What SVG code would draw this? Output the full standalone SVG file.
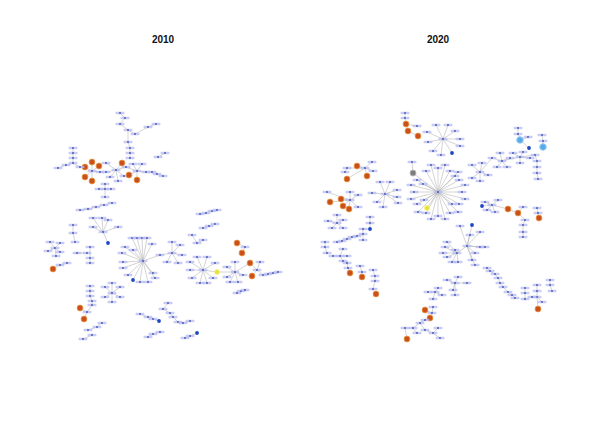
<svg xmlns="http://www.w3.org/2000/svg" xmlns:xlink="http://www.w3.org/1999/xlink" width="602" height="427" viewBox="0 0 602 427">
<style>
.t{font-family:"Liberation Sans",Arial,sans-serif;font-size:10px;font-weight:bold;fill:#111;text-anchor:middle}
.e{fill:none;stroke:#a8a8a8;stroke-width:0.5}
</style>
<defs>
<g id="nd"><rect x="-4.5" y="-1.3" width="9" height="2.6" rx="1" fill="#b8b9ef" opacity="0.75"/><circle r="0.9" fill="#3b55b8"/></g>
<g id="or"><circle r="2.9" fill="#c8501c" stroke="#e8903e" stroke-width="0.9"/></g>
<g id="bl"><circle r="1.9" fill="#1e46c4"/></g>
<g id="ye"><circle r="2.5" fill="#e6e23a" stroke="#f4f08a" stroke-width="0.8"/></g>
<g id="gr"><circle r="3" fill="#7d7d7d" stroke="#b5b5b5" stroke-width="1"/></g>
<g id="lb"><circle r="3.3" fill="#55aaea" stroke="#9fd0f4" stroke-width="1"/></g>
</defs>
<rect width="602" height="427" fill="#fff"/>
<text class="t" x="163" y="42.5">2010</text>
<text class="t" x="438" y="42.5">2020</text>

<g id="connectors">
<path class="e" d="M120 113L125 118L120 124L128 130L135 134L148 127L156 124M128 130L128 142L130 148L130 153L130 158"/>
<path class="e" d="M116 170L106 163M116 170L122 163M116 170L126 167M116 170L124 176M116 170L110 177M116 170L118 181M116 170L106 172L100 172"/>
<path class="e" d="M92 171L92 162M92 171L85 167M92 171L99 166M92 171L85 177M92 171L92 181M92 171L100 172"/>
<path class="e" d="M137 171L129 175M137 171L137 180M137 171L133 164M137 171L142 164M137 171L146 172L152 172L157 174L163 176M126 167L137 171"/>
<path class="e" d="M158 157L165 153M73 148L73 153L73 158L73 163L66 165L58 168M73 163L80 167"/>
<path class="e" d="M105 189L105 184M105 189L99 189M105 189L111 189M105 189L105 197"/>
<path class="e" d="M80 210L88 209L96 207L104 205L112 203"/>
<path class="e" d="M103 232L93 218M103 232L102 218M103 232L108 220M103 232L118 227M103 232L93 227M103 232L108 243"/>
<path class="e" d="M143 261L132 238M143 261L137 238M143 261L142 238M143 261L147 238M143 261L152 244M143 261L125 247M143 261L122 253M143 261L123 262M143 261L123 268M143 261L128 275M143 261L133 280M143 261L140 282M143 261L148 282M143 261L153 273M143 261L155 278M143 261L133 250M143 261L160 255L172 253"/>
<path class="e" d="M172 253L172 242M172 253L180 245M172 253L182 255M172 253L178 263M172 253L167 262"/>
<path class="e" d="M192 235L197 243L203 240M200 214L206 213L212 211L217 210M203 228L209 226L215 224"/>
<path class="e" d="M203 270L197 257M203 270L190 262M203 270L190 270M203 270L192 278M203 270L200 283M203 270L207 283M203 270L213 278M203 270L215 263M203 270L207 257M203 270L217 272L235 272"/>
<path class="e" d="M235 272L227 267M235 272L235 262M235 272L230 282M235 272L238 282M235 272L243 275M235 272L227 277M235 272L250 263L257 270"/>
<path class="e" d="M237 243L245 247L242 253M257 270L252 276M257 270L260 262M257 270L263 275L268 274L273 273L278 272M237 293L241 291L245 290"/>
<path class="e" d="M112 293L112 283M112 293L105 287M112 293L120 287M112 293L105 297M112 293L120 297M112 293L112 302"/>
<path class="e" d="M73 225L73 233L75 242M55 248L50 242M55 248L60 243M55 248L48 251M55 248L60 252M55 248L56 256M77 253L87 253L90 253M90 247L90 253L90 258L90 263M53 269L60 265L67 263"/>
<path class="e" d="M90 286L90 291L90 296L92 301L92 305L87 312L84 319M80 308L87 312M102 323L97 327L88 330M92 335L83 339"/>
<path class="e" d="M168 303L163 309L170 313L173 317L178 322L183 323L190 321M140 314L148 317L153 319L159 321M160 332L153 334L148 337M197 333L190 336L185 338"/>
<path class="e" d="M405 113L405 118L406 124L408 131M406 124L417 126M408 131L418 136"/>
<path class="e" d="M443 139L436 125M443 139L448 125M443 139L427 132M443 139L428 142M443 139L433 151M443 139L441 155M443 139L452 153M443 139L460 139M443 139L460 146M443 139L455 131"/>
<path class="e" d="M518 128L518 134L520 140L528 137M520 140L529 148M542 135L543 141L543 147"/>
<path class="e" d="M502 161L492 158M502 161L500 153M502 161L510 158M502 161L507 167M502 161L497 167M502 161L520 157M520 157L513 153M520 157L523 152M520 157L530 158M520 157L520 163M520 157L535 155L537 161L537 167L537 173L538 179"/>
<path class="e" d="M480 172L472 165M480 172L482 163M480 172L472 178M480 172L480 181M480 172L488 175M480 172L492 158"/>
<path class="e" d="M365 168L357 166M365 168L347 179M365 168L367 176M365 168L347 168M365 168L372 162M365 168L373 171M347 168L345 172"/>
<path class="e" d="M350 200L330 202M350 200L341 199M350 200L343 206M350 200L349 209M350 200L327 192M350 200L350 192M350 200L358 195M350 200L358 207"/>
<path class="e" d="M385 194L380 182M385 194L390 182M385 194L372 193M385 194L377 202M385 194L383 207M385 194L397 197M385 194L397 190M385 194L398 203"/>
<path class="e" d="M413 173L412 162M438 192L413 173M438 192L427 208"/>
<path class="e" d="M438 192L462 192M438 192L465 199M438 192L459 204M438 192L458 212M438 192L450 213M438 192L445 219M438 192L438 216M438 192L431 219M438 192L426 213M438 192L418 212M438 192L417 204M438 192L411 199M438 192L414 192M438 192L411 185M438 192L417 180M438 192L426 171M438 192L431 165M438 192L438 168M438 192L445 165M438 192L450 171M438 192L458 172M438 192L459 180M438 192L465 185M438 192L455 176M438 192L423 184M438 192L452 204M438 192L424 200"/>
<path class="e" d="M492 205L485 202M492 205L498 200M492 205L487 210M492 205L495 212M492 205L482 206M492 205L508 209L518 213L523 207M518 213L525 220L523 225L523 232L523 237M537 208L538 213L539 218"/>
<path class="e" d="M467 246L460 226M467 246L472 225M467 246L480 232M467 246L470 235M467 246L480 247M467 246L485 247M467 246L475 253M467 246L472 260M467 246L475 265M467 246L457 253"/>
<path class="e" d="M457 253L447 242M457 253L445 247M457 253L443 253M457 253L447 257M457 253L452 262M457 253L458 262M457 253L455 250"/>
<path class="e" d="M487 268L490 271L495 274L498 278L500 283L503 287L508 292L512 295L515 298"/>
<path class="e" d="M537 297L538 309M537 297L537 291L537 285M537 297L532 297M537 297L542 302M525 288L525 293L525 299M550 280L550 285L552 291"/>
<path class="e" d="M455 283L447 280M455 283L458 277M455 283L467 283M455 283L453 290M455 283L455 295M435 292L428 292M435 292L438 288M435 292L442 295M435 292L433 299"/>
<path class="e" d="M433 307L432 313L430 318L425 320L420 323L413 328L405 328L407 339M425 310L432 313M420 323L425 330L433 333L438 328M433 333L440 338M413 328L417 333"/>
<path class="e" d="M337 223L337 215M337 223L328 221M337 223L343 220M337 223L332 228M337 223L343 228"/>
<path class="e" d="M370 217L370 223L370 229L363 229L363 234L363 240M337 242L342 241L347 239L352 237L357 236L363 234M325 242L325 247L327 253"/>
<path class="e" d="M340 256L343 249M340 256L333 256M340 256L347 256M340 256L343 261L347 263L348 268L350 273M360 266L362 272L362 277M373 270L375 276L375 281L373 289L376 294"/>
</g>

<g id="nodes-2010">
<g id="l-topchain">
<use href="#nd" x="120" y="113"/><use href="#nd" x="125" y="118"/><use href="#nd" x="120" y="124"/><use href="#nd" x="128" y="130"/><use href="#nd" x="135" y="134"/><use href="#nd" x="148" y="127"/><use href="#nd" x="156" y="124"/><use href="#nd" x="128" y="142"/><use href="#nd" x="130" y="148"/><use href="#nd" x="130" y="153"/><use href="#nd" x="130" y="158"/>
</g>
<g id="l-hub1">
<use href="#nd" x="116" y="170"/><use href="#nd" x="106" y="163"/><use href="#or" x="122" y="163"/><use href="#nd" x="126" y="167"/><use href="#nd" x="124" y="176"/><use href="#nd" x="110" y="177"/><use href="#nd" x="118" y="181"/><use href="#nd" x="106" y="172"/>
</g>
<g id="l-hub2">
<use href="#nd" x="92" y="171"/><use href="#or" x="92" y="162"/><use href="#or" x="85" y="167"/><use href="#or" x="99" y="166"/><use href="#or" x="85" y="177"/><use href="#or" x="92" y="181"/><use href="#nd" x="100" y="172"/>
</g>
<g id="l-hub3">
<use href="#nd" x="137" y="171"/><use href="#or" x="129" y="175"/><use href="#or" x="137" y="180"/><use href="#nd" x="133" y="164"/><use href="#nd" x="142" y="164"/><use href="#nd" x="146" y="172"/><use href="#nd" x="152" y="172"/><use href="#nd" x="157" y="174"/><use href="#nd" x="163" y="176"/><use href="#nd" x="158" y="157"/><use href="#nd" x="165" y="153"/>
</g>
<g id="l-leftchain">
<use href="#nd" x="73" y="148"/><use href="#nd" x="73" y="153"/><use href="#nd" x="73" y="158"/><use href="#nd" x="73" y="163"/><use href="#nd" x="66" y="165"/><use href="#nd" x="58" y="168"/><use href="#nd" x="80" y="167"/>
</g>
<g id="l-small1">
<use href="#nd" x="105" y="189"/><use href="#nd" x="105" y="184"/><use href="#nd" x="99" y="189"/><use href="#nd" x="111" y="189"/><use href="#nd" x="105" y="197"/>
<use href="#nd" x="80" y="210"/><use href="#nd" x="88" y="209"/><use href="#nd" x="96" y="207"/><use href="#nd" x="104" y="205"/><use href="#nd" x="112" y="203"/>
</g>
<g id="l-hub4">
<use href="#nd" x="103" y="232"/><use href="#nd" x="93" y="218"/><use href="#nd" x="102" y="218"/><use href="#nd" x="108" y="220"/><use href="#nd" x="118" y="227"/><use href="#nd" x="93" y="227"/><use href="#bl" x="108" y="243"/>
</g>
<g id="l-bighub">
<use href="#nd" x="143" y="261"/><use href="#nd" x="132" y="238"/><use href="#nd" x="137" y="238"/><use href="#nd" x="142" y="238"/><use href="#nd" x="147" y="238"/><use href="#nd" x="152" y="244"/><use href="#nd" x="125" y="247"/><use href="#nd" x="122" y="253"/><use href="#nd" x="123" y="262"/><use href="#nd" x="123" y="268"/><use href="#nd" x="128" y="275"/><use href="#bl" x="133" y="280"/><use href="#nd" x="140" y="282"/><use href="#nd" x="148" y="282"/><use href="#nd" x="153" y="273"/><use href="#nd" x="155" y="278"/><use href="#nd" x="133" y="250"/><use href="#nd" x="160" y="255"/>
<use href="#nd" x="172" y="253"/><use href="#nd" x="172" y="242"/><use href="#nd" x="180" y="245"/><use href="#nd" x="182" y="255"/><use href="#nd" x="178" y="263"/><use href="#nd" x="167" y="262"/>
</g>
<g id="l-chains2">
<use href="#nd" x="192" y="235"/><use href="#nd" x="197" y="243"/><use href="#nd" x="203" y="240"/>
<use href="#nd" x="200" y="214"/><use href="#nd" x="206" y="213"/><use href="#nd" x="212" y="211"/><use href="#nd" x="217" y="210"/>
<use href="#nd" x="203" y="228"/><use href="#nd" x="209" y="226"/><use href="#nd" x="215" y="224"/>
</g>
<g id="l-hub5">
<use href="#nd" x="203" y="270"/><use href="#nd" x="197" y="257"/><use href="#nd" x="190" y="262"/><use href="#nd" x="190" y="270"/><use href="#nd" x="192" y="278"/><use href="#nd" x="200" y="283"/><use href="#nd" x="207" y="283"/><use href="#nd" x="213" y="278"/><use href="#nd" x="215" y="263"/><use href="#nd" x="207" y="257"/><use href="#ye" x="217" y="272"/>
</g>
<g id="l-hub6">
<use href="#nd" x="235" y="272"/><use href="#nd" x="227" y="267"/><use href="#nd" x="235" y="262"/><use href="#nd" x="230" y="282"/><use href="#nd" x="238" y="282"/><use href="#nd" x="243" y="275"/><use href="#nd" x="227" y="277"/>
<use href="#or" x="237" y="243"/><use href="#nd" x="245" y="247"/><use href="#or" x="242" y="253"/>
<use href="#or" x="250" y="263"/><use href="#nd" x="257" y="270"/><use href="#or" x="252" y="276"/><use href="#nd" x="260" y="262"/><use href="#nd" x="263" y="275"/><use href="#nd" x="268" y="274"/><use href="#nd" x="273" y="273"/><use href="#nd" x="278" y="272"/>
<use href="#nd" x="237" y="293"/><use href="#nd" x="241" y="291"/><use href="#nd" x="245" y="290"/>
</g>
<g id="l-left2">
<use href="#nd" x="73" y="225"/><use href="#nd" x="73" y="233"/><use href="#nd" x="75" y="242"/>
<use href="#nd" x="55" y="248"/><use href="#nd" x="50" y="242"/><use href="#nd" x="60" y="243"/><use href="#nd" x="48" y="251"/><use href="#nd" x="60" y="252"/><use href="#nd" x="56" y="256"/>
<use href="#nd" x="77" y="253"/><use href="#nd" x="87" y="253"/><use href="#nd" x="90" y="247"/><use href="#nd" x="90" y="258"/><use href="#nd" x="90" y="263"/>
<use href="#or" x="53" y="269"/><use href="#nd" x="60" y="265"/><use href="#nd" x="67" y="263"/>
</g>
<g id="l-bottom">
<use href="#nd" x="112" y="293"/><use href="#nd" x="112" y="283"/><use href="#nd" x="105" y="287"/><use href="#nd" x="120" y="287"/><use href="#nd" x="105" y="297"/><use href="#nd" x="120" y="297"/><use href="#nd" x="112" y="302"/>
<use href="#nd" x="90" y="286"/><use href="#nd" x="90" y="291"/><use href="#nd" x="90" y="296"/><use href="#nd" x="92" y="301"/><use href="#nd" x="92" y="305"/><use href="#or" x="80" y="308"/><use href="#nd" x="87" y="312"/><use href="#or" x="84" y="319"/>
<use href="#nd" x="102" y="323"/><use href="#nd" x="97" y="327"/><use href="#nd" x="88" y="330"/><use href="#nd" x="92" y="335"/><use href="#nd" x="83" y="339"/>
<use href="#nd" x="168" y="303"/><use href="#nd" x="163" y="309"/><use href="#nd" x="170" y="313"/><use href="#nd" x="173" y="317"/><use href="#nd" x="178" y="322"/><use href="#nd" x="183" y="323"/><use href="#nd" x="190" y="321"/>
<use href="#nd" x="140" y="314"/><use href="#nd" x="148" y="317"/><use href="#nd" x="153" y="319"/><use href="#bl" x="159" y="321"/>
<use href="#nd" x="160" y="332"/><use href="#nd" x="153" y="334"/><use href="#nd" x="148" y="337"/>
<use href="#bl" x="197" y="333"/><use href="#nd" x="190" y="336"/><use href="#nd" x="185" y="338"/>
</g>
</g>

<g id="nodes-2020">
<g id="r-top">
<use href="#nd" x="405" y="113"/><use href="#nd" x="405" y="118"/><use href="#or" x="406" y="124"/><use href="#or" x="408" y="131"/><use href="#nd" x="417" y="126"/><use href="#or" x="418" y="136"/>
</g>
<g id="r-hub1">
<use href="#nd" x="443" y="139"/><use href="#nd" x="436" y="125"/><use href="#nd" x="448" y="125"/><use href="#nd" x="427" y="132"/><use href="#nd" x="428" y="142"/><use href="#nd" x="433" y="151"/><use href="#nd" x="441" y="155"/><use href="#bl" x="452" y="153"/><use href="#nd" x="460" y="139"/><use href="#nd" x="460" y="146"/><use href="#nd" x="455" y="131"/>
</g>
<g id="r-lightblue">
<use href="#nd" x="518" y="128"/><use href="#nd" x="518" y="134"/><use href="#lb" x="520" y="140"/><use href="#nd" x="528" y="137"/><use href="#bl" x="529" y="148"/>
<use href="#nd" x="542" y="135"/><use href="#nd" x="543" y="141"/><use href="#lb" x="543" y="147"/>
</g>
<g id="r-hub2">
<use href="#nd" x="502" y="161"/><use href="#nd" x="492" y="158"/><use href="#nd" x="500" y="153"/><use href="#nd" x="510" y="158"/><use href="#nd" x="507" y="167"/><use href="#nd" x="497" y="167"/>
<use href="#nd" x="520" y="157"/><use href="#nd" x="513" y="153"/><use href="#nd" x="523" y="152"/><use href="#nd" x="530" y="158"/><use href="#nd" x="520" y="163"/><use href="#nd" x="535" y="155"/><use href="#nd" x="537" y="161"/><use href="#nd" x="537" y="167"/><use href="#nd" x="537" y="173"/><use href="#nd" x="538" y="179"/>
<use href="#nd" x="480" y="172"/><use href="#nd" x="472" y="165"/><use href="#nd" x="482" y="163"/><use href="#nd" x="472" y="178"/><use href="#nd" x="480" y="181"/><use href="#nd" x="488" y="175"/>
</g>
<g id="r-orange1">
<use href="#nd" x="365" y="168"/><use href="#or" x="357" y="166"/><use href="#or" x="347" y="179"/><use href="#or" x="367" y="176"/><use href="#nd" x="347" y="168"/><use href="#nd" x="372" y="162"/><use href="#nd" x="373" y="171"/><use href="#nd" x="345" y="172"/>
</g>
<g id="r-orange2">
<use href="#nd" x="350" y="200"/><use href="#or" x="330" y="202"/><use href="#or" x="341" y="199"/><use href="#or" x="343" y="206"/><use href="#or" x="349" y="209"/><use href="#nd" x="327" y="192"/><use href="#nd" x="350" y="192"/><use href="#nd" x="358" y="195"/><use href="#nd" x="358" y="207"/>
</g>
<g id="r-hub5">
<use href="#nd" x="385" y="194"/><use href="#nd" x="380" y="182"/><use href="#nd" x="390" y="182"/><use href="#nd" x="372" y="193"/><use href="#nd" x="377" y="202"/><use href="#nd" x="383" y="207"/><use href="#nd" x="397" y="197"/><use href="#nd" x="397" y="190"/><use href="#nd" x="398" y="203"/>
</g>
<g id="r-bighub">
<use href="#nd" x="412" y="162"/><use href="#gr" x="413" y="173"/><use href="#ye" x="427" y="208"/>
<use href="#nd" x="438" y="192"/><use href="#nd" x="462" y="192"/><use href="#nd" x="465" y="199"/><use href="#nd" x="459" y="204"/><use href="#nd" x="458" y="212"/><use href="#nd" x="450" y="213"/><use href="#nd" x="445" y="219"/><use href="#nd" x="438" y="216"/><use href="#nd" x="431" y="219"/><use href="#nd" x="426" y="213"/><use href="#nd" x="418" y="212"/><use href="#nd" x="417" y="204"/><use href="#nd" x="411" y="199"/><use href="#nd" x="414" y="192"/><use href="#nd" x="411" y="185"/><use href="#nd" x="417" y="180"/><use href="#nd" x="426" y="171"/><use href="#nd" x="431" y="165"/><use href="#nd" x="438" y="168"/><use href="#nd" x="445" y="165"/><use href="#nd" x="450" y="171"/><use href="#nd" x="458" y="172"/><use href="#nd" x="459" y="180"/><use href="#nd" x="465" y="185"/><use href="#nd" x="455" y="176"/><use href="#nd" x="423" y="184"/><use href="#nd" x="452" y="204"/><use href="#nd" x="424" y="200"/>
</g>
<g id="r-hub6">
<use href="#nd" x="492" y="205"/><use href="#nd" x="485" y="202"/><use href="#nd" x="498" y="200"/><use href="#nd" x="487" y="210"/><use href="#nd" x="495" y="212"/><use href="#bl" x="482" y="206"/>
<use href="#or" x="508" y="209"/><use href="#or" x="518" y="213"/><use href="#nd" x="523" y="207"/><use href="#nd" x="525" y="220"/><use href="#nd" x="523" y="225"/><use href="#nd" x="523" y="232"/><use href="#nd" x="523" y="237"/>
<use href="#nd" x="537" y="208"/><use href="#nd" x="538" y="213"/><use href="#or" x="539" y="218"/>
</g>
<g id="r-hub7">
<use href="#nd" x="467" y="246"/><use href="#nd" x="460" y="226"/><use href="#bl" x="472" y="225"/><use href="#nd" x="480" y="232"/><use href="#nd" x="470" y="235"/><use href="#nd" x="480" y="247"/><use href="#nd" x="485" y="247"/><use href="#nd" x="475" y="253"/><use href="#nd" x="472" y="260"/><use href="#nd" x="475" y="265"/>
<use href="#nd" x="457" y="253"/><use href="#nd" x="447" y="242"/><use href="#nd" x="445" y="247"/><use href="#nd" x="443" y="253"/><use href="#nd" x="447" y="257"/><use href="#nd" x="452" y="262"/><use href="#nd" x="458" y="262"/><use href="#nd" x="455" y="250"/>
</g>
<g id="r-diag">
<use href="#nd" x="487" y="268"/><use href="#nd" x="490" y="271"/><use href="#nd" x="495" y="274"/><use href="#nd" x="498" y="278"/><use href="#nd" x="500" y="283"/><use href="#nd" x="503" y="287"/><use href="#nd" x="508" y="292"/><use href="#nd" x="512" y="295"/><use href="#nd" x="515" y="298"/>
<use href="#nd" x="537" y="297"/><use href="#or" x="538" y="309"/><use href="#nd" x="537" y="285"/><use href="#nd" x="537" y="291"/><use href="#nd" x="532" y="297"/><use href="#nd" x="542" y="302"/>
<use href="#nd" x="525" y="288"/><use href="#nd" x="525" y="293"/><use href="#nd" x="525" y="299"/><use href="#nd" x="550" y="280"/><use href="#nd" x="550" y="285"/><use href="#nd" x="552" y="291"/>
</g>
<g id="r-bottom">
<use href="#nd" x="455" y="283"/><use href="#nd" x="447" y="280"/><use href="#nd" x="458" y="277"/><use href="#nd" x="467" y="283"/><use href="#nd" x="453" y="290"/><use href="#nd" x="455" y="295"/>
<use href="#nd" x="435" y="292"/><use href="#nd" x="428" y="292"/><use href="#nd" x="438" y="288"/><use href="#nd" x="442" y="295"/><use href="#nd" x="433" y="299"/>
<use href="#nd" x="433" y="307"/><use href="#or" x="425" y="310"/><use href="#nd" x="432" y="313"/><use href="#or" x="430" y="318"/><use href="#nd" x="425" y="320"/><use href="#nd" x="420" y="323"/><use href="#nd" x="413" y="328"/><use href="#nd" x="405" y="328"/><use href="#or" x="407" y="339"/><use href="#nd" x="425" y="330"/><use href="#nd" x="433" y="333"/><use href="#nd" x="438" y="328"/><use href="#nd" x="440" y="338"/><use href="#nd" x="417" y="333"/>
</g>
<g id="r-left">
<use href="#nd" x="337" y="223"/><use href="#nd" x="337" y="215"/><use href="#nd" x="328" y="221"/><use href="#nd" x="343" y="220"/><use href="#nd" x="332" y="228"/><use href="#nd" x="343" y="228"/>
<use href="#nd" x="370" y="217"/><use href="#nd" x="370" y="223"/><use href="#bl" x="370" y="229"/><use href="#nd" x="363" y="229"/><use href="#nd" x="363" y="234"/><use href="#nd" x="363" y="240"/>
<use href="#nd" x="337" y="242"/><use href="#nd" x="342" y="241"/><use href="#nd" x="347" y="239"/><use href="#nd" x="352" y="237"/><use href="#nd" x="357" y="236"/>
<use href="#nd" x="325" y="242"/><use href="#nd" x="325" y="247"/><use href="#nd" x="327" y="253"/>
<use href="#nd" x="340" y="256"/><use href="#nd" x="343" y="249"/><use href="#nd" x="333" y="256"/><use href="#nd" x="347" y="256"/><use href="#nd" x="343" y="261"/><use href="#nd" x="347" y="263"/><use href="#nd" x="348" y="268"/><use href="#or" x="350" y="273"/>
<use href="#nd" x="360" y="266"/><use href="#nd" x="362" y="272"/><use href="#or" x="362" y="277"/>
<use href="#nd" x="373" y="270"/><use href="#nd" x="375" y="276"/><use href="#nd" x="375" y="281"/><use href="#nd" x="373" y="289"/><use href="#or" x="376" y="294"/>
</g>
</g>
</svg>
